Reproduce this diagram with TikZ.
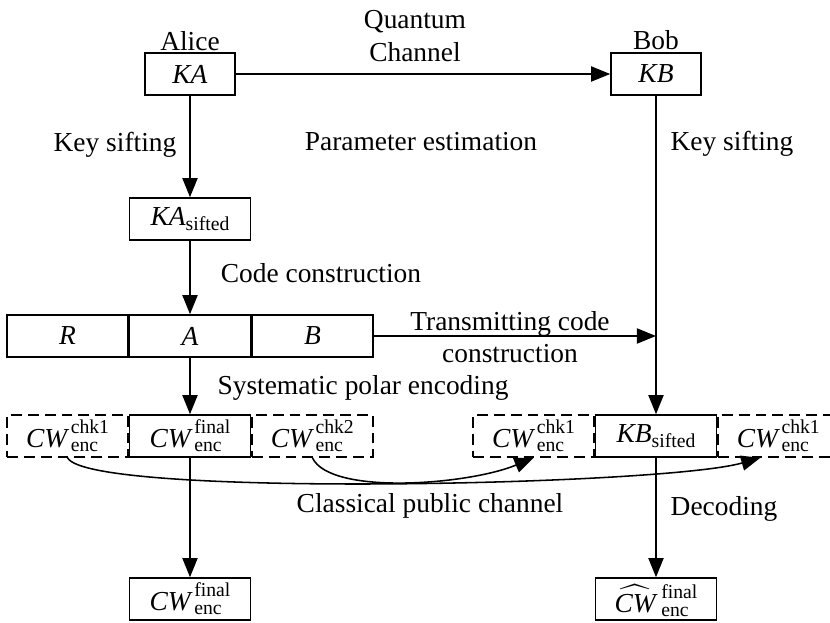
\documentclass[tikz,border=0pt]{standalone}
\usepackage{amsmath}
\usepackage{fontspec}
\setmainfont{Liberation Serif}
\usetikzlibrary{arrows.meta, positioning, calc}

% tu ma voi chi so tren / duoi
\newcommand{\tuma}[3]{#1\kern1pt\raisebox{0.33cm}{\fontsize{14}{12.8}\selectfont\begin{tabular}[t]{@{}l@{}}#2\\#3\end{tabular}}}
\newcommand{\sangloc}[1]{\textit{#1}\raisebox{-0.125cm}{\fontsize{14}{14}\selectfont sifted}}

\tikzset{
    hop/.style={draw, line width=1.1pt, minimum width=3.02cm, minimum height=1.05cm, inner sep=0pt},
    hopnho/.style={hop, minimum width=2.25cm},
    hopgach/.style={hop, dash pattern=on 0.27cm off 0.15cm},
    cwhop/.style={text height=0.8cm, text depth=0.25cm},
    mui/.style={-{Triangle[length=4.8mm,width=3.8mm]}, line width=1.1pt},
}

\begin{document}
\begin{tikzpicture}[x=0.025cm, y=-0.025cm, font=\fontsize{19.5}{23}\selectfont]
        \useasboundingbox (0,0) rectangle (830,623);

        % Alice va Bob
        \node[hopnho] (KA) at (190,74) {\textit{KA}};
        \node[hopnho] (KB) at (656,74) {\textit{KB}};
        \node (alice) at (190,41) {Alice};
        \node (bob) at (656,40) {Bob};
        \node[align=center] (kenhlt) at (415,36) {Quantum\\Channel};

        % Khoa sau sang loc va cau truc ma
        \node[hop] (KAs) at (190,219) {\sangloc{KA}};
        \node[hop] (A) at (190,336) {\textit{A}};
        \node[hop, left=0pt of A] (R) {\textit{R}};
        \node[hop, right=0pt of A] (B) {\textit{B}};

        % Hang tu ma ben Alice
        \node[hop, cwhop] (cwf) at (190,436) {\tuma{\textit{CW}}{final}{enc}};
        \node[hopgach, cwhop, left=0pt of cwf] (chk1) {\tuma{\textit{CW}}{chk1}{enc}};
        \node[hopgach, cwhop, right=0pt of cwf] (chk2) {\tuma{\textit{CW}}{chk2}{enc}};

        % Hang tu ma ben Bob
        \node[hop] (KBs) at (656,436) {\sangloc{KB}};
        \node[hopgach, cwhop, left=0pt of KBs] (rchk1) {\tuma{\textit{CW}}{chk1}{enc}};
        \node[hopgach, cwhop, right=0pt of KBs] (rchk2) {\tuma{\textit{CW}}{chk1}{enc}};

        % Ket qua cuoi
        \node[hop, cwhop] (cwa) at (190,599) {\tuma{\textit{CW}}{final}{enc}};
        \node[hop, text height=0.85cm, text depth=0.2cm] (cwb) at (656,599) {\tuma{$\widehat{\textit{CW}}$\kern3pt}{final}{enc}};

        % Cac mui ten
        \draw[mui] (KA) -- (KB); % kenh luong tu
        \draw[mui] (KA) -- (KAs);
        \draw[mui] (KAs) -- (A);
        \draw[mui] (A) -- (cwf);
        \draw[mui] (cwf) -- (cwa);
        \draw[mui] (KB) -- (KBs);
        \draw[mui] (KBs) -- (cwb);
        \draw[mui] (B) -- (B -| KB); % truyen cau truc ma

        % Kenh cong khai
        \draw[mui] (chk1.south) .. controls +(20,40) and +(-98,28) .. ([xshift=-0.45cm]rchk2.south);
        \draw[mui] (chk2.south) .. controls +(18,38) and +(-65,27) .. (rchk1.south);

        % Nhan
        \node (sangA) at (115,145) {Key sifting};
        \node (uocluong) at (421,142) {Parameter estimation};
        \node (sangB) at (732,144) {Key sifting};
        \node (cauTruc) at (321,273) {Code construction};
        \node[align=center] (truyen) at (510,337) {Transmitting code\\construction};
        \node (mahoa) at (363,388) {Systematic polar encoding};
        \node (congkhai) at (430,506) {Classical public channel};
        \node (giaima) at (724,509) {Decoding};

\end{tikzpicture}
\end{document}
